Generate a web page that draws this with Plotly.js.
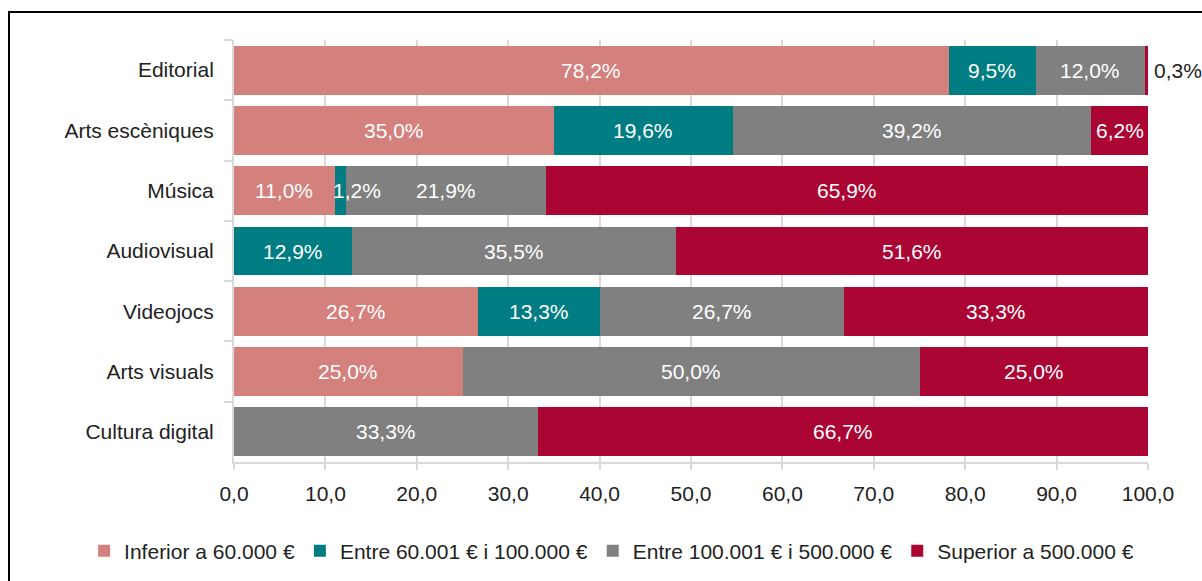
<!DOCTYPE html>
<html>
<head>
<meta charset="utf-8">
<script src="https://cdn.plot.ly/plotly-3.0.1.min.js"></script>
<style>
  html, body { margin:0; padding:0; width:1202px; height:581px; overflow:hidden; background:#fff; }
  #chart { position:absolute; left:0; top:0; width:1202px; height:581px; }
  #frame { position:absolute; left:8px; top:11px; width:1400px; height:800px; border:2px solid #000; pointer-events:none; }
</style>
</head>
<body>
<div id="chart"></div>
<div id="frame"></div>
<script>
const categories = ["Editorial", "Arts escèniques", "Música", "Audiovisual", "Videojocs", "Arts visuals", "Cultura digital"];
const seriesNames = ["Inferior a 60.000 €", "Entre 60.001 € i 100.000 €", "Entre 100.001 € i 500.000 €", "Superior a 500.000 €"];
const inferior60 = [78.2, 35.0, 11.0, 0, 26.7, 25.0, 0];
const entre60_100 = [9.5, 19.6, 1.2, 12.9, 13.3, 0, 0];
const entre100_500 = [12.0, 39.2, 21.9, 35.5, 26.7, 50.0, 33.3];
const superior500 = [0.3, 6.2, 65.9, 51.6, 33.3, 25.0, 66.7];
const colors = ["#D4807D", "#007C83", "#808080", "#AA0533"];

const series = [inferior60, entre60_100, entre100_500, superior500];
const FONT = "Liberation Sans, Arial, sans-serif";
const FS = 21;
const fmt = v => v.toFixed(1).replace('.', ',') + '%';

const traces = series.map((vals, i) => ({
  type: 'bar', orientation: 'h', name: seriesNames[i],
  x: vals, y: categories,
  marker: { color: colors[i], line: { width: 0 } },
  textposition: 'none', hoverinfo: 'x+name'
}));

const annotations = [];
categories.forEach((c, ci) => {
  let cum = 0;
  series.forEach((vals, si) => {
    const v = vals[ci];
    if (v > 0) {
      if (v < 1) {
        annotations.push({ x: cum + v, y: c, xref: 'x', yref: 'y', text: fmt(v), showarrow: false,
          xanchor: 'left', xshift: 4, font: { family: FONT, size: FS, color: '#222222' } });
      } else {
        annotations.push({ x: cum + v / 2, y: c, xref: 'x', yref: 'y', text: fmt(v), showarrow: false,
          xanchor: 'center', xshift: v < 2 ? 17 : 0, font: { family: FONT, size: FS, color: '#ffffff' } });
      }
    }
    cum += v;
  });
});

const layout = {
  width: 1202, height: 581,
  margin: { l: 234, r: 54, t: 40, b: 119, autoexpand: false },
  barmode: 'stack', bargap: 0.19,
  paper_bgcolor: '#fff', plot_bgcolor: '#fff',
  separators: ',.',
  font: { family: FONT, size: FS, color: '#222222' },
  xaxis: {
    range: [0, 100], dtick: 10, tick0: 0, tickformat: '.1f',
    showgrid: true, gridcolor: '#d9d9d9', gridwidth: 2,
    showline: true, linecolor: '#d9d9d9', linewidth: 2,
    ticks: 'outside', ticklen: 6, tickcolor: '#d9d9d9', tickwidth: 2,
    ticklabelstandoff: 6, zeroline: false, tickangle: 0, automargin: false,
    tickfont: { family: FONT, size: FS, color: '#222222' }
  },
  yaxis: {
    type: 'category', autorange: 'reversed',
    showline: true, linecolor: '#d9d9d9', linewidth: 2,
    ticks: 'outside', tickson: 'boundaries', ticklen: 8, tickcolor: '#d9d9d9', tickwidth: 2,
    showgrid: false, ticklabelstandoff: 14, automargin: false,
    tickfont: { family: FONT, size: FS, color: '#222222' }
  },
  showlegend: true,
  legend: {
    orientation: 'h', x: -0.164, xanchor: 'left', y: -0.211, yanchor: 'middle',
    font: { family: FONT, size: FS, color: '#222222' }, itemwidth: 30, traceorder: 'normal'
  },
  annotations: annotations
};

Plotly.newPlot('chart', traces, layout, { displayModeBar: false, staticPlot: true });
</script>
</body>
</html>
